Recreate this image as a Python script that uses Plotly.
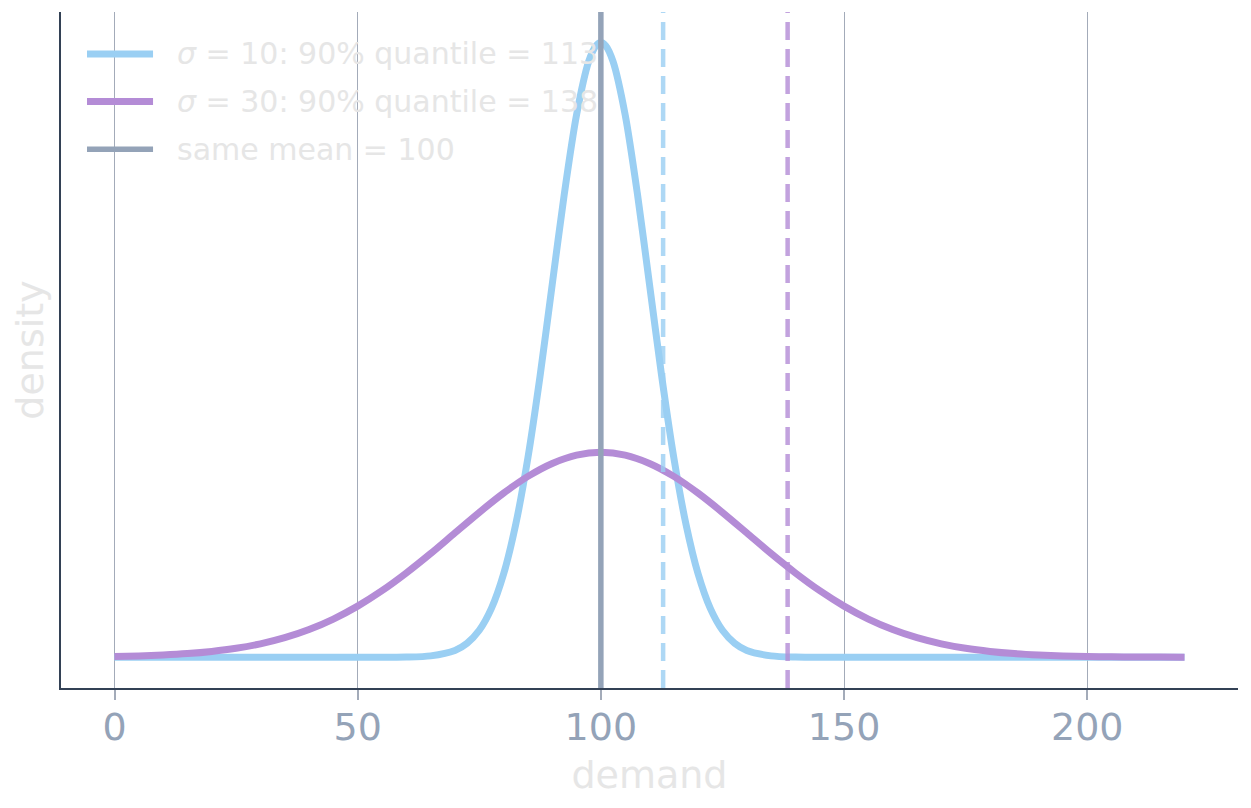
"""Two demand distributions with the same mean but different spread,
and where their 90% quantiles land."""

import plotly.graph_objects as go

# demand grid and densities
X_NARROW = [0, 40, 50, 60, 65, 70, 72.5, 75, 77.5, 80, 82.5, 85, 87.5, 90, 92.5, 95, 97.5, 99,
            100, 101, 102.5, 105, 107.5, 110, 112.5, 115, 117.5, 120, 122.5, 125, 127.5, 130,
            135, 140, 150, 160, 220]
Y_NARROW = [0.0, 0.0, 0.0, 0.00001, 0.00009, 0.00044, 0.00091, 0.00175, 0.00317, 0.0054,
            0.00863, 0.01295, 0.01826, 0.0242, 0.03011, 0.0352, 0.03867, 0.03969,
            0.0399, 0.03969, 0.03867, 0.0352, 0.03011, 0.0242, 0.01826, 0.01295, 0.00863, 0.0054,
            0.00317, 0.00175, 0.00091, 0.00044, 0.00009, 0.00001, 0.0, 0.0, 0.0]

X_WIDE = [0, 5, 10, 15, 20, 25, 30, 35, 40, 45, 50, 55, 60, 65, 70, 75, 80, 85, 90, 95,
          100, 105, 110, 115, 120, 125, 130, 135, 140, 145, 150, 155, 160, 165, 170, 175,
          180, 185, 190, 195, 200, 205, 210, 215, 220]
Y_WIDE = [0.00005, 0.00009, 0.00015, 0.00024, 0.00038, 0.00058, 0.00087, 0.00127, 0.0018,
          0.00248, 0.00332, 0.00432, 0.00547, 0.00673, 0.00807, 0.0094, 0.01065, 0.01174,
          0.01258, 0.01312, 0.0133, 0.01312, 0.01258, 0.01174, 0.01065, 0.0094, 0.00807,
          0.00673, 0.00547, 0.00432, 0.00332, 0.00248, 0.0018, 0.00127, 0.00087, 0.00058,
          0.00038, 0.00024, 0.00015, 0.00009, 0.00005, 0.00003, 0.00002, 0.00001, 0.00000]

SIGMAS = [10, 30]
Q90 = [112.8, 138.4]
MEAN = 100
X_TICKS = [0, 50, 100, 150, 200]

BLUE = "#9ACFF3"
PURPLE = "#B48CD6"
GRAY = "#94A3B8"
SPINE = "#334155"
GRID = "#A3ABB9"
LIGHT_TEXT = "#E6E6E6"
FONT = "DejaVu Sans"

fig = go.Figure()

for xs, ys, color, s in ((X_NARROW, Y_NARROW, BLUE, SIGMAS[0]), (X_WIDE, Y_WIDE, PURPLE, SIGMAS[1])):
    fig.add_trace(go.Scatter(
        x=xs, y=ys, mode="lines",
        line=dict(color=color, width=7, shape="spline", smoothing=0.8),
        name=f"σ = {s}", showlegend=False, hoverinfo="skip",
    ))

# quantile markers (dashed) and the shared mean
for q, color in zip(Q90, (BLUE, PURPLE)):
    fig.add_shape(type="line", xref="x", yref="paper", x0=q, x1=q, y0=0, y1=1,
                  line=dict(color=color, width=4.5, dash="18px,9px"), opacity=0.8, layer="above")
fig.add_shape(type="line", xref="x", yref="paper", x0=MEAN, x1=MEAN, y0=0, y1=1,
              line=dict(color=GRAY, width=5.5), layer="above")

# hand-drawn legend, top left
legend_rows = [
    (BLUE, 7, f"<i>σ</i> = {SIGMAS[0]}: 90% quantile = {Q90[0]:.0f}"),
    (PURPLE, 7, f"<i>σ</i> = {SIGMAS[1]}: 90% quantile = {Q90[1]:.0f}"),
    (GRAY, 5.5, f"same mean = {MEAN}"),
]
for i, (color, w, label) in enumerate(legend_rows):
    yy = 0.938 - i * 0.0705
    fig.add_shape(type="line", xref="paper", yref="paper", x0=0.0221, x1=0.0782, y0=yy, y1=yy,
                  line=dict(color=color, width=w), layer="above")
    fig.add_annotation(xref="paper", yref="paper", x=0.0969, y=yy, text=label, showarrow=False,
                       xanchor="left", yanchor="middle",
                       font=dict(family=FONT, size=30, color=LIGHT_TEXT))

fig.update_xaxes(
    range=[-11, 231], tickvals=X_TICKS,
    showgrid=True, gridcolor=GRID, gridwidth=1.2,
    showline=True, linecolor=SPINE, linewidth=2,
    ticks="outside", ticklen=10, tickwidth=1.5, tickcolor=GRID,
    ticklabelstandoff=-6,
    tickfont=dict(family=FONT, size=38, color=GRAY),
    title=dict(text="demand", font=dict(family=FONT, size=38, color=LIGHT_TEXT), standoff=14),
    zeroline=False,
)
fig.update_yaxes(
    range=[-0.001995, 0.04188],
    showgrid=False, zeroline=False, showticklabels=False,
    showline=True, linecolor=SPINE, linewidth=2,
    title=dict(text="density", font=dict(family=FONT, size=38, color=LIGHT_TEXT), standoff=8),
)

# the page sits 8 px in from the window edge, so size and margins allow for that
fig.update_layout(
    width=1243, height=800,
    margin=dict(l=53, r=13, t=4, b=120),
    plot_bgcolor="white", paper_bgcolor="white",
    font=dict(family=FONT),
)

fig.write_html("out.html")
